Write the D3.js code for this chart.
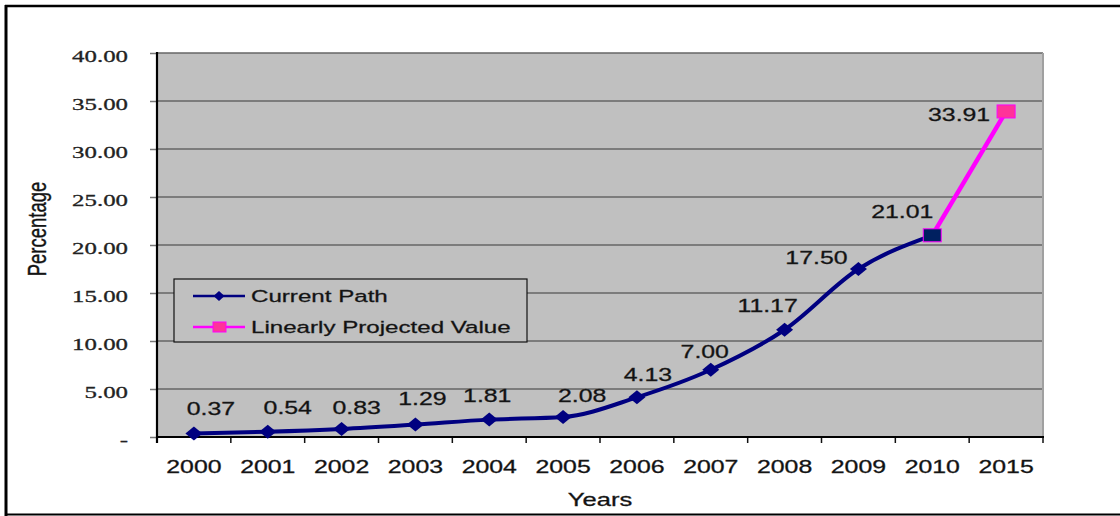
<!DOCTYPE html>
<html><head><meta charset="utf-8">
<script src="https://cdn.jsdelivr.net/npm/d3@7"></script>
<style>
html,body{margin:0;padding:0;background:#fff;}
svg{display:block;}
text{stroke:#222;stroke-width:0.3px;}
</style></head>
<body>
<svg id="chart" width="1120" height="516"></svg>
<script>
// ---- data ----
const years = ["2000","2001","2002","2003","2004","2005","2006","2007","2008","2009","2010","2015"];
const currentPathYears = ["2000","2001","2002","2003","2004","2005","2006","2007","2008","2009","2010"];
const currentPath = [0.37, 0.54, 0.83, 1.29, 1.81, 2.08, 4.13, 7.00, 11.17, 17.50, 21.01];
const projectedYears = ["2010","2015"];
const projectedValues = [21.01, 33.91];
const yTickValues = [0, 5, 10, 15, 20, 25, 30, 35, 40];
const seriesNames = ["Current Path", "Linearly Projected Value"];
const xTitle = "Years";
const yTitle = "Percentage";

// label placement (style) offsets, px, relative to each point
const labelOffsets = [[17,-24],[20,-24],[15,-21],[7,-25],[-2,-23],[19,-21],[11,-22],[-6,-17],[-17,-23],[-42,-11],[-30,-23]];
const projLabelOffset = [-47, 4];

// ---- layout ----
const SX = 1.42; // horizontal stretch of the original image text
const svg = d3.select("#chart");
const L = 157, R = 1043, T = 53, B = 437;

const x = d3.scaleBand().domain(years).range([L, R]).padding(0);
const y = d3.scaleLinear().domain([0, 40]).range([B, T]);
const cx = d => x(d) + x.bandwidth() / 2;

// outer frame
svg.append("line").attr("x1", 5).attr("x2", 1120).attr("y1", 6).attr("y2", 6).attr("stroke", "#000").attr("stroke-width", 2.5);
svg.append("line").attr("x1", 6).attr("x2", 6).attr("y1", 5).attr("y2", 516).attr("stroke", "#000").attr("stroke-width", 3);
svg.append("line").attr("x1", 5).attr("x2", 1120).attr("y1", 514.5).attr("y2", 514.5).attr("stroke", "#000").attr("stroke-width", 2);

// plot background
svg.append("rect").attr("x", L).attr("y", T).attr("width", R - L).attr("height", B - T).attr("fill", "#c0c0c0");

// gridlines
svg.append("g").selectAll("line").data(yTickValues.filter(v => v > 0)).join("line")
  .attr("x1", L).attr("x2", R).attr("y1", d => y(d)).attr("y2", d => y(d))
  .attr("stroke", "#666").attr("stroke-width", 1.5);

// right border of plot area
svg.append("line").attr("x1", R).attr("x2", R).attr("y1", T).attr("y2", B).attr("stroke", "#a0a0a0").attr("stroke-width", 2);

// y axis
const yAxis = d3.axisLeft(y).tickValues(yTickValues).tickSize(7).tickPadding(0).tickFormat(() => "");
const gy = svg.append("g").attr("transform", `translate(${L},0)`).call(yAxis);
gy.select(".domain").remove();
gy.selectAll(".tick line").attr("stroke", "#777").attr("stroke-width", 1.5);
gy.selectAll(".tick").append("g")
  .attr("transform", `translate(-29,3) scale(${SX},1)`)
  .append("text")
  .attr("text-anchor", "end").attr("dominant-baseline", "central")
  .attr("font-family", "'Liberation Serif','Times New Roman',serif").attr("font-size", 17.5)
  .attr("fill", "#222")
  .text(d => d === 0 ? "-" : d.toFixed(2));

// x axis ticks at category boundaries
const xAxis = d3.axisBottom(x).tickSize(0).tickFormat(() => "");
const gx = svg.append("g").attr("transform", `translate(0,${B})`).call(xAxis);
gx.select(".domain").remove();
const bounds = years.map(d => x(d)).concat([R]);
svg.append("g").selectAll("line").data(bounds).join("line")
  .attr("x1", d => d).attr("x2", d => d).attr("y1", B).attr("y2", B + 6)
  .attr("stroke", "#111").attr("stroke-width", 1.5);
gx.selectAll(".tick").append("g")
  .attr("transform", `translate(0,30) scale(${SX},1)`)
  .append("text")
  .attr("text-anchor", "middle").attr("dominant-baseline", "central")
  .attr("font-family", "'Liberation Sans',Arial,sans-serif").attr("font-size", 17.5)
  .attr("fill", "#111")
  .text(d => d);

// axis lines
svg.append("line").attr("x1", L).attr("x2", L).attr("y1", T - 1).attr("y2", B + 6).attr("stroke", "#000").attr("stroke-width", 2.2);
svg.append("line").attr("x1", L).attr("x2", R + 1).attr("y1", B).attr("y2", B).attr("stroke", "#000").attr("stroke-width", 2);

// axis titles
svg.append("g").attr("transform", `translate(${(L + R) / 2},500) scale(${SX},1)`)
  .append("text").attr("text-anchor", "middle").attr("dominant-baseline", "central")
  .attr("font-family", "'Liberation Sans',Arial,sans-serif").attr("font-size", 18).attr("fill", "#111")
  .text(xTitle);
svg.append("g").attr("transform", `translate(37,229) scale(${SX},1) rotate(-90)`)
  .append("text").attr("text-anchor", "middle").attr("dominant-baseline", "central")
  .attr("font-family", "'Liberation Sans',Arial,sans-serif").attr("font-size", 18.5).attr("fill", "#111")
  .text(yTitle);

// series lines
const navy = "#000080", magenta = "#ff00ff";
const cur = currentPathYears.map((yr, i) => ({yr, v: currentPath[i]}));
const proj = projectedYears.map((yr, i) => ({yr, v: projectedValues[i]}));
const line = d3.line().x(d => cx(d.yr)).y(d => y(d.v)).curve(d3.curveMonotoneX);
const lineStraight = d3.line().x(d => cx(d.yr)).y(d => y(d.v));

svg.append("path").datum(cur).attr("d", line).attr("fill", "none").attr("stroke", navy).attr("stroke-width", 4);
svg.append("path").datum(proj).attr("d", lineStraight).attr("fill", "none").attr("stroke", magenta).attr("stroke-width", 4.5);

// diamond markers
const diamond = (w, h) => `M0,${-h}L${w},0L0,${h}L${-w},0Z`;
svg.append("g").selectAll("path").data(cur.slice(0, -1)).join("path")
  .attr("transform", d => `translate(${cx(d.yr)},${y(d.v)})`)
  .attr("d", diamond(8.5, 7)).attr("fill", navy);

// square markers
svg.append("g").selectAll("rect").data(proj).join("rect")
  .attr("x", d => cx(d.yr) - 9).attr("y", d => y(d.v) - 6.5)
  .attr("width", 18).attr("height", 13)
  .attr("fill", (d, i) => i === 0 ? "#002060" : "#ff3399")
  .attr("stroke", magenta).attr("stroke-width", 1);

// data labels
const labelFont = "'Liberation Sans',Arial,sans-serif";
svg.append("g").selectAll("g").data(cur).join("g")
  .attr("transform", (d, i) => `translate(${cx(d.yr) + labelOffsets[i][0]},${y(d.v) + labelOffsets[i][1]}) scale(${SX},1)`)
  .append("text").attr("text-anchor", "middle").attr("dominant-baseline", "central")
  .attr("font-family", labelFont).attr("font-size", 17.5).attr("fill", "#111")
  .text(d => d.v.toFixed(2));
svg.append("g").datum(proj[1])
  .attr("transform", d => `translate(${cx(d.yr) + projLabelOffset[0]},${y(d.v) + projLabelOffset[1]}) scale(${SX},1)`)
  .append("text").attr("text-anchor", "middle").attr("dominant-baseline", "central")
  .attr("font-family", labelFont).attr("font-size", 17.5).attr("fill", "#111")
  .text(d => d.v.toFixed(2));

// legend
const lg = svg.append("g").attr("transform", "translate(174,279)");
lg.append("rect").attr("x", 0).attr("y", 0).attr("width", 353).attr("height", 63)
  .attr("fill", "#c0c0c0").attr("stroke", "#111").attr("stroke-width", 1.2);
const rows = [{name: seriesNames[0], color: navy, type: "d", yy: 17}, {name: seriesNames[1], color: magenta, type: "s", yy: 48}];
rows.forEach(r => {
  lg.append("line").attr("x1", 19).attr("x2", 71).attr("y1", r.yy).attr("y2", r.yy).attr("stroke", r.color).attr("stroke-width", 2.5);
  if (r.type === "d") {
    lg.append("path").attr("transform", `translate(45,${r.yy})`).attr("d", diamond(5.5, 5)).attr("fill", navy);
  } else {
    lg.append("rect").attr("x", 39).attr("y", r.yy - 5).attr("width", 13).attr("height", 10).attr("fill", "#ff3399").attr("stroke", magenta);
  }
  lg.append("g").attr("transform", `translate(77,${r.yy}) scale(${SX},1)`)
    .append("text").attr("dominant-baseline", "central")
    .attr("font-family", labelFont).attr("font-size", 17).attr("fill", "#111")
    .text(r.name);
});
</script>
</body></html>
